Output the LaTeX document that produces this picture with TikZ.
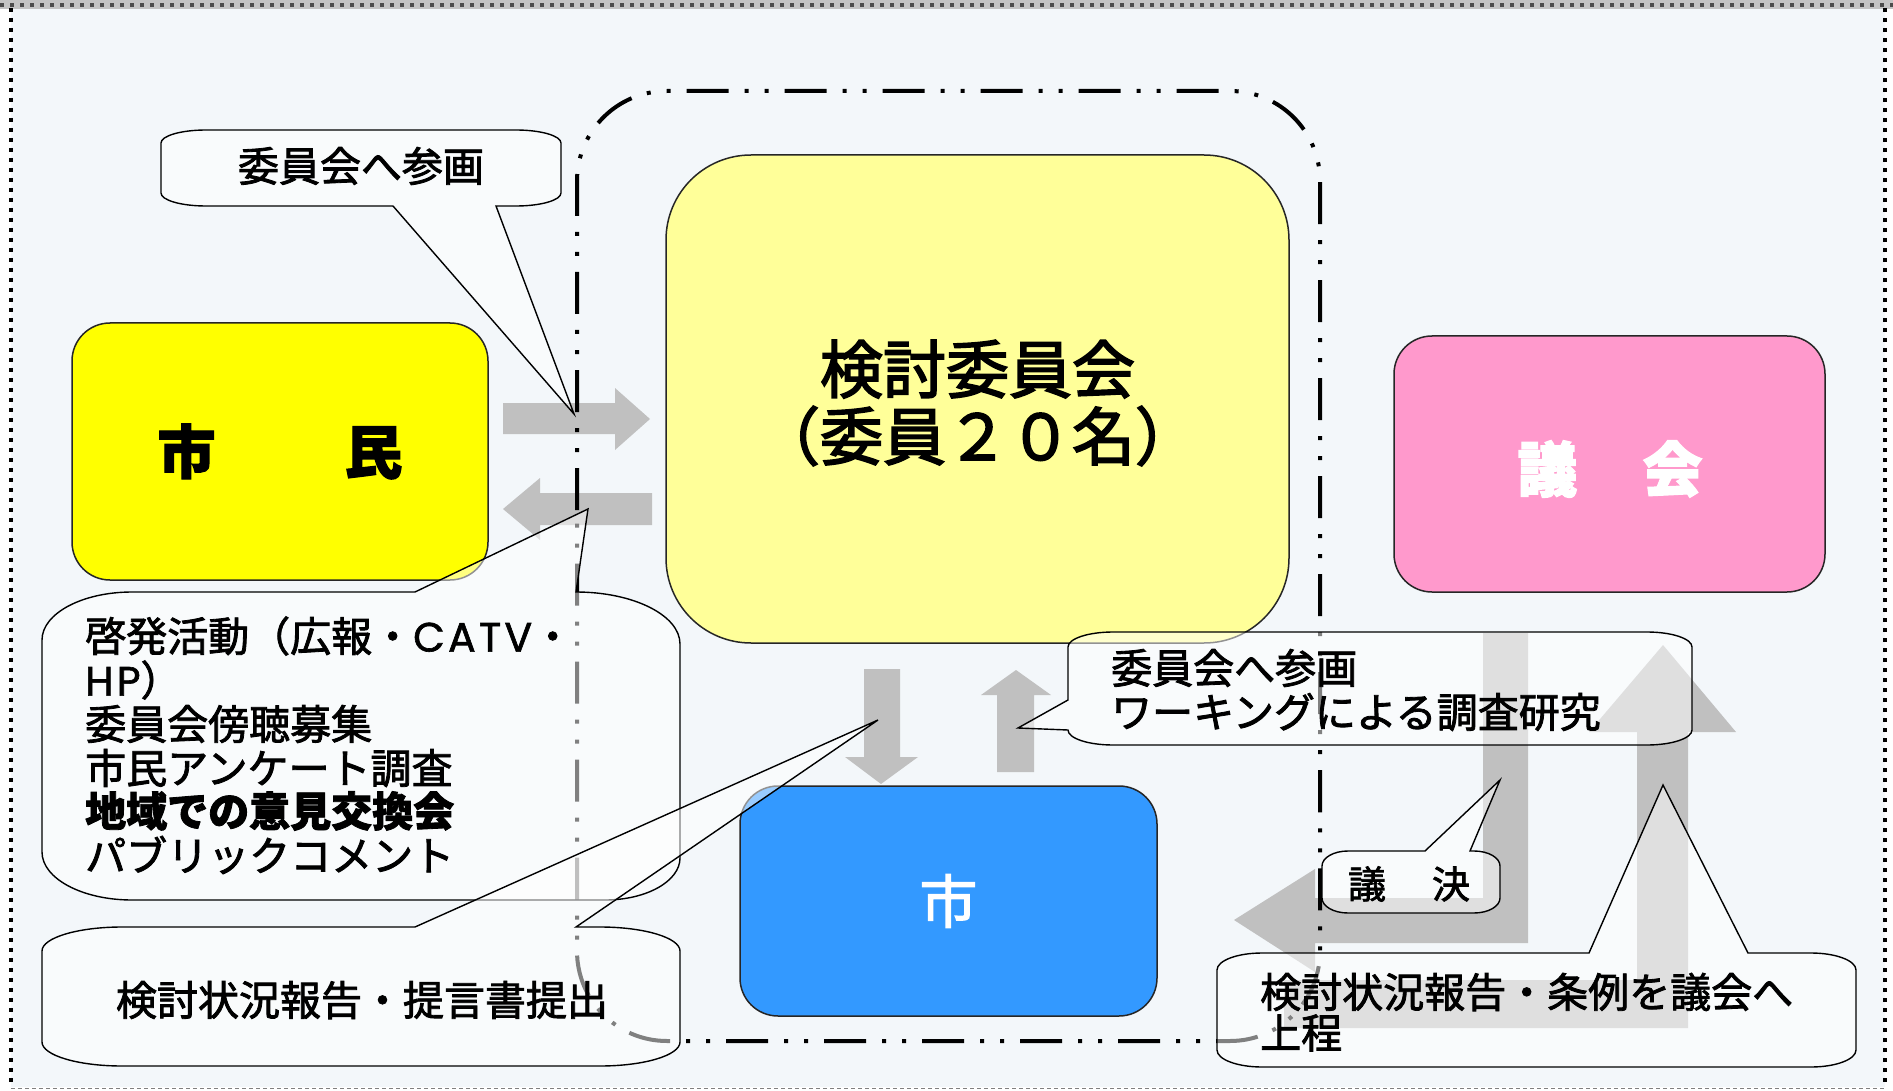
\documentclass[tikz,border=0pt]{standalone}
\usepackage{fontspec}
\setmainfont{Noto Sans CJK JP}[FakeBold=2]
\newfontfamily\heavyjp{Noto Sans CJK JP}[FakeBold=2.6]
\newfontfamily\latinf{Poppins}[LetterSpace=8,FakeBold=1.5]
\definecolor{bgc}{HTML}{F3F7FA}
\definecolor{arrowgray}{HTML}{C0C0C0}
\definecolor{citizenc}{HTML}{FFFF00}
\definecolor{committeec}{HTML}{FFFF99}
\definecolor{councilc}{HTML}{FF99CC}
\definecolor{cityc}{HTML}{3399FF}
\definecolor{bandgray}{HTML}{C4C4C4}
\begin{document}
\begin{tikzpicture}[x=1pt,y=-1pt,
  box/.style={draw=black!85, line width=1.5pt, rounded corners=38pt, inner sep=0pt},
  blockarrow/.style={fill=arrowgray, draw=none},
  bubble/.style={draw=black, line width=1.4pt, fill=white, fill opacity=0.5},
  txt/.style={inner sep=0pt, font=\fontsize{41}{44}\selectfont},
  boundary/.style={draw=black, line width=4pt, rounded corners=90pt,
    dash pattern=on 42pt off 16pt on 4pt off 16pt on 4pt off 16pt},
  framedots/.style={line width=4pt, dash pattern=on 4pt off 6pt}]
\useasboundingbox (0,0) rectangle (1893,1091);
% background and frame
\fill[white] (0,0) rectangle (1893,1091);
\fill[bgc] (11,6) rectangle (1885,1087);
\fill[bandgray] (0,0) rectangle (1893,9);
\draw[framedots, black!70] (0,5) -- (1893,5);
\draw[framedots, black] (11,8) -- (11,1087);
\draw[framedots, black] (1885,8) -- (1885,1087);
\draw[gray, line width=1pt, dash pattern=on 4pt off 3pt] (11,1088) -- (1885,1088);

% main boxes
\node[box, fill=citizenc, minimum width=416pt, minimum height=257pt,
  font=\fontsize{58}{60}\selectfont\bfseries] (citizen) at (280,451.5) {市\hspace{129pt}民};
\node[box, fill=committeec, rounded corners=85pt, minimum width=623pt, minimum height=488pt] (committee) at (977.5,399) {};
\node[inner sep=0pt, align=center, font=\fontsize{63}{67}\heavyjp\selectfont] (committeetext) at (977.5,403) {検討委員会\\（委員２０名）};
\node[box, fill=councilc, minimum width=431pt, minimum height=256pt] (council) at (1609.5,464) {};
\node[inner sep=0pt, text=white, font=\fontsize{60}{62}\selectfont\bfseries] (counciltext) at (1610,469) {議\hspace{65pt}会};
\node[box, fill=cityc, minimum width=417pt, minimum height=230pt, text=white,
  font=\fontsize{58}{60}\selectfont] (city) at (948.5,901) {市};

% gray block arrows
\fill[blockarrow] (503,403) -- (615,403) -- (615,388) -- (650,419) -- (615,450) -- (615,434) -- (503,434) -- cycle;
\fill[blockarrow] (652,493) -- (540,493) -- (540,478) -- (503,509) -- (540,540) -- (540,525) -- (652,525) -- cycle;
\fill[blockarrow] (864,669) -- (900,669) -- (900,757) -- (918,757) -- (881,784) -- (845,757) -- (864,757) -- cycle;
\fill[blockarrow] (997,772) -- (997,695) -- (981,695) -- (1016,670) -- (1051,695) -- (1034,695) -- (1034,772) -- cycle;
\fill[blockarrow] (1483,633) -- (1528,633) -- (1528,943) -- (1315,943) -- (1315,972) -- (1234,920) -- (1315,869) -- (1315,898) -- (1483,898) -- cycle;
\fill[blockarrow] (1284,980) -- (1637,980) -- (1637,732) -- (1589,732) -- (1663,645) -- (1736,732) -- (1688,732) -- (1688,1028) -- (1284,1028) -- cycle;

% committee boundary (dash dot dot)
\draw[boundary] (577,600) -- (577,91) -- (1320,91) -- (1320,1041) -- (577,1041) -- cycle;

% callouts
% A
\draw[bubble] (206,130) -- (516,130) arc[start angle=270,end angle=360,x radius=45,y radius=13]
  -- (561,193) arc[start angle=0,end angle=90,x radius=45,y radius=13]
  -- (496,206) -- (574,414) -- (393,206)
  -- (206,206) arc[start angle=90,end angle=180,x radius=45,y radius=13]
  -- (161,143) arc[start angle=180,end angle=270,x radius=45,y radius=13] -- cycle;
% B
\draw[bubble] (132,592) -- (415,592) -- (588,509) -- (576,592)
  arc[start angle=270,end angle=360,x radius=104,y radius=52]
  -- (680,858) arc[start angle=0,end angle=90,x radius=75,y radius=42]
  -- (132,900) arc[start angle=90,end angle=180,x radius=90,y radius=48]
  -- (42,640) arc[start angle=180,end angle=270,x radius=90,y radius=48] -- cycle;
% C
\draw[bubble] (122,927) -- (415,927) -- (878,720) -- (576,927)
  -- (600,927) arc[start angle=270,end angle=360,x radius=80,y radius=24]
  -- (680,1042) arc[start angle=0,end angle=90,x radius=80,y radius=24]
  -- (122,1066) arc[start angle=90,end angle=180,x radius=80,y radius=24]
  -- (42,951) arc[start angle=180,end angle=270,x radius=80,y radius=24] -- cycle;
% D
\draw[bubble] (1113,632) -- (1647,632) arc[start angle=270,end angle=360,x radius=45,y radius=15]
  -- (1692,730) arc[start angle=0,end angle=90,x radius=45,y radius=15]
  -- (1113,745) arc[start angle=90,end angle=180,x radius=45,y radius=15]
  -- (1018,728) -- (1068,700)
  -- (1068,647) arc[start angle=180,end angle=270,x radius=45,y radius=15] -- cycle;
% E
\draw[bubble] (1348,851) -- (1425,851) -- (1500,780) -- (1470,851)
  -- (1474,851) arc[start angle=270,end angle=360,x radius=26,y radius=15]
  -- (1500,898) arc[start angle=0,end angle=90,x radius=26,y radius=15]
  -- (1348,913) arc[start angle=90,end angle=180,x radius=26,y radius=15]
  -- (1322,866) arc[start angle=180,end angle=270,x radius=26,y radius=15] -- cycle;
% F
\draw[bubble] (1262,953) -- (1589,953) -- (1663,785) -- (1748,953)
  -- (1811,953) arc[start angle=270,end angle=360,x radius=45,y radius=17]
  -- (1856,1050) arc[start angle=0,end angle=90,x radius=45,y radius=17]
  -- (1262,1067) arc[start angle=90,end angle=180,x radius=45,y radius=17]
  -- (1217,970) arc[start angle=180,end angle=270,x radius=45,y radius=17] -- cycle;

% callout texts
\node[txt] (ta) at (361,166) {委員会へ参画};
\node[txt, anchor=west] (tb1) at (85,636) {啓発活動（広報・\smash{\latinf CATV}・};
\node[txt, anchor=west] (tb2) at (85,680) {\smash{\latinf HP}）};
\node[txt, anchor=west] (tb3) at (85,724) {委員会傍聴募集};
\node[txt, anchor=west] (tb4) at (85,768) {市民アンケート調査};
\node[txt, anchor=west, font=\fontsize{41}{44}\selectfont\bfseries] (tb5) at (85,811) {地域での意見交換会};
\node[txt, anchor=west] (tb6) at (85,855) {パブリックコメント};
\node[txt] (tc) at (362,1000) {検討状況報告・提言書提出};
\node[txt, anchor=west] (td1) at (1111,668) {委員会へ参画};
\node[txt, anchor=west] (td2) at (1111,712) {ワーキングによる調査研究};
\node[txt, font=\fontsize{38}{40}\selectfont] (te) at (1409,884) {議\hspace{46pt}決};
\node[txt, anchor=west] (tf1) at (1260,992) {検討状況報告・条例を議会へ};
\node[txt, anchor=west] (tf2) at (1260,1033) {上程};
\end{tikzpicture}
\end{document}
